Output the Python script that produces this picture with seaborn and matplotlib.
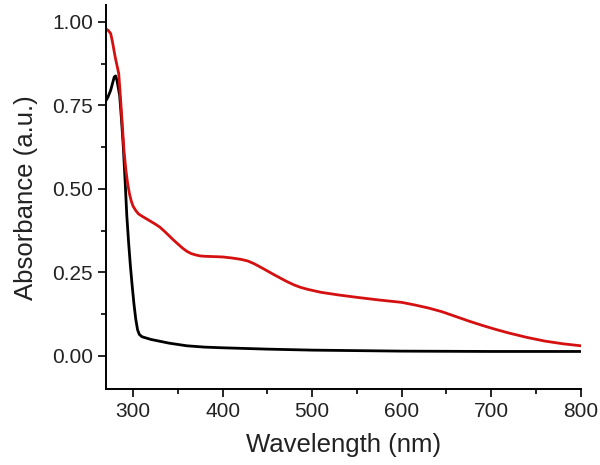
import matplotlib
matplotlib.use("Agg")
import matplotlib.pyplot as plt
from matplotlib.ticker import MultipleLocator
import seaborn as sns
import pandas as pd

# black spectrum
wl_black = [270, 272, 275, 277, 279, 280.5, 282, 283, 285, 287, 289, 291, 293, 295,
            297, 299, 301, 303, 305, 307, 310, 320, 340, 360, 380, 400, 450, 500,
            600, 700, 800]
abs_black = [0.765, 0.775, 0.795, 0.815, 0.835, 0.838, 0.825, 0.81, 0.78, 0.71,
             0.63, 0.53, 0.42, 0.34, 0.27, 0.21, 0.155, 0.11, 0.078, 0.064, 0.057,
             0.049, 0.038, 0.03, 0.026, 0.024, 0.02, 0.017, 0.014, 0.013, 0.013]

# red spectrum
wl_red = [270, 272, 275, 277, 280, 282, 284, 286, 288, 290, 292, 294, 296, 298,
          300, 303, 306, 310, 315, 320, 325, 330, 335, 340, 345, 350, 355, 360,
          365, 370, 375, 380, 390, 400, 410, 420, 428, 435, 442, 450, 458, 465,
          472, 480, 487, 495, 510, 530, 550, 575, 600, 615, 630, 645, 660, 675,
          690, 705, 720, 740, 760, 780, 800]
abs_red = [0.978, 0.975, 0.965, 0.94, 0.895, 0.87, 0.845, 0.77, 0.69, 0.61, 0.555,
           0.515, 0.485, 0.463, 0.448, 0.435, 0.425, 0.418, 0.41, 0.402, 0.394,
           0.385, 0.373, 0.36, 0.347, 0.335, 0.323, 0.313, 0.306, 0.302, 0.299,
           0.298, 0.297, 0.296, 0.293, 0.289, 0.284, 0.276, 0.266, 0.254, 0.242,
           0.232, 0.222, 0.212, 0.205, 0.199, 0.19, 0.182, 0.175, 0.167, 0.16,
           0.152, 0.143, 0.132, 0.118, 0.104, 0.091, 0.079, 0.068, 0.055, 0.044,
           0.036, 0.03]

x_ticks = [300, 400, 500, 600, 700, 800]
y_ticks = [0.00, 0.25, 0.50, 0.75, 1.00]

df = pd.concat([
    pd.DataFrame({"wl": wl_black, "abs": abs_black, "s": "black"}),
    pd.DataFrame({"wl": wl_red, "abs": abs_red, "s": "red"}),
])

sns.set_style("ticks")
plt.rcParams['font.family'] = ['Liberation Sans', 'DejaVu Sans']

fig = plt.figure(figsize=(6, 4.65), dpi=100)
ax = fig.add_axes([0.177, 0.163, 0.791, 0.826])

sns.lineplot(data=df, x="wl", y="abs", hue="s", sort=False,
             palette={"black": "#000000", "red": "#d41010"},
             linewidth=2, legend=False, ax=ax)

ax.set_xlim(270, 800)
ax.set_ylim(-0.1, 1.05)
ax.set_xticks(x_ticks)
ax.set_yticks(y_ticks)
ax.set_yticklabels([f"{v:.2f}" for v in y_ticks])
ax.xaxis.set_minor_locator(MultipleLocator(50))
ax.yaxis.set_minor_locator(MultipleLocator(0.125))
ax.tick_params(which="major", direction="out", length=6, width=1.2,
               labelsize=15, color="black", labelcolor="#222222")
ax.tick_params(which="minor", direction="out", length=3.5, width=1.2, color="black")
for side in ["left", "bottom"]:
    ax.spines[side].set_linewidth(1.4)
    ax.spines[side].set_color("black")
sns.despine(ax=ax)

ax.set_xlabel("Wavelength (nm)", fontsize=18.5, color="#222222", labelpad=8)
ax.set_ylabel("Absorbance (a.u.)", fontsize=18.5, color="#222222", labelpad=10)

fig.savefig("out.png", dpi=100)
